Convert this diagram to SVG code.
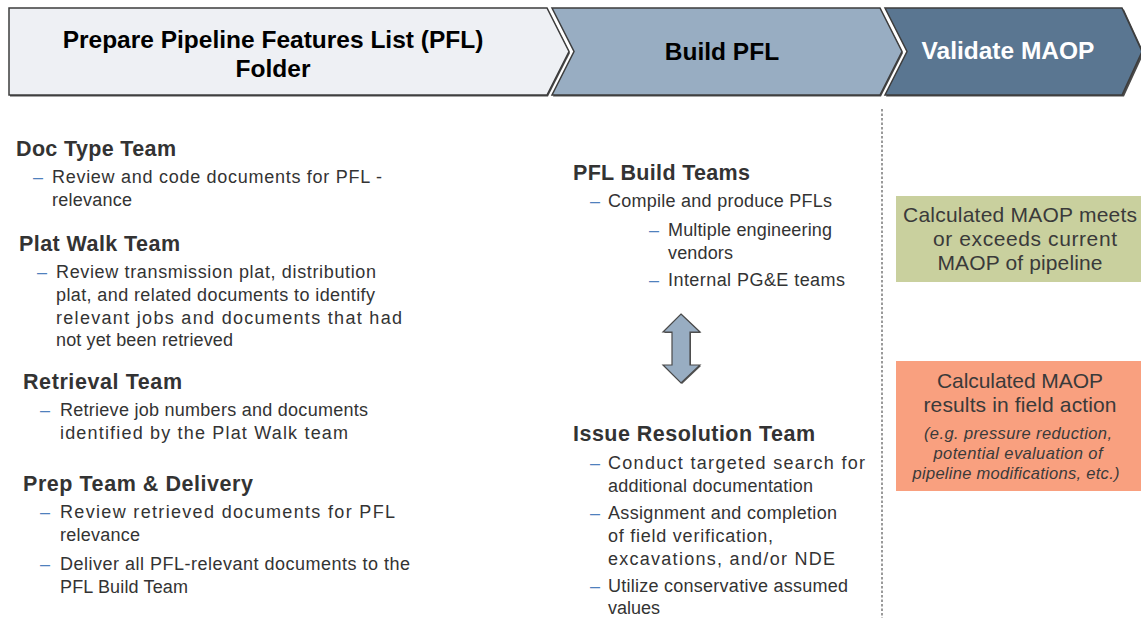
<svg xmlns="http://www.w3.org/2000/svg" width="1141" height="618" viewBox="0 0 1141 618">
  <style>
    .hdr { font-family: "Liberation Sans", Arial, sans-serif; font-weight: bold; font-size: 24.5px; text-anchor: middle; }
    .head { font-family: "Liberation Sans", Arial, sans-serif; font-weight: bold; font-size: 21.5px; fill: #333333; }
    .body { font-family: "Liberation Sans", Arial, sans-serif; font-size: 18px; fill: #333333; }
    .dash { font-family: "Liberation Sans", Arial, sans-serif; font-size: 18px; fill: #4F81BD; }
    .box { font-family: "Liberation Sans", Arial, sans-serif; font-size: 21px; fill: #3a3a3a; text-anchor: middle; }
    .note { font-family: "Liberation Sans", Arial, sans-serif; font-size: 16.5px; font-style: italic; fill: #3a3a3a; text-anchor: middle; }
    .chev { stroke: #3d3d3d; stroke-width: 1.5; stroke-linejoin: miter; }
    .shadow { fill: #4a4a4a; }
  </style>

  <rect width="1141" height="618" fill="#ffffff"/>

  <!-- phase chevrons -->
  <g id="phase-prepare">
    <polygon class="shadow" points="10,9.5 548,9.5 570,53 548,96.5 10,96.5"/>
    <polygon class="chev" fill="#EEF0F4" points="9,8 547,8 569,51.5 547,95 9,95"/>
    <text class="hdr" fill="#000000" x="273" y="48">Prepare Pipeline Features List (PFL)</text>
    <text class="hdr" fill="#000000" x="273" y="77">Folder</text>
  </g>
  <g id="phase-build">
    <polygon class="shadow" points="553,9.5 881,9.5 903,53 881,96.5 553,96.5 575,53"/>
    <polygon class="chev" fill="#98ADC2" points="552,8 880,8 902,51.5 880,95 552,95 574,51.5"/>
    <text class="hdr" fill="#000000" x="722" y="60">Build PFL</text>
  </g>
  <g id="phase-validate">
    <polygon class="shadow" points="886,9.5 1124,9.5 1144,53 1124,96.5 886,96.5 908,53"/>
    <polygon class="chev" fill="#5A7691" points="885,8 1122,8 1142,51.5 1122,95 885,95 907,51.5"/>
    <text class="hdr" fill="#ffffff" x="1008" y="59">Validate MAOP</text>
  </g>

  <!-- separator between build and validate columns -->
  <line x1="882" y1="109" x2="882" y2="618" stroke="#7a7a7a" stroke-width="1.5" stroke-dasharray="2.5,2"/>

  <!-- left column: prepare teams -->
  <g id="doc-type-team">
    <text class="head" x="16" y="155.5" textLength="160">Doc Type Team</text>
    <text class="dash" x="33" y="183">–</text>
    <text class="body" x="52" y="183" textLength="330">Review and code documents for PFL -</text>
    <text class="body" x="52" y="206" textLength="80">relevance</text>
  </g>
  <g id="plat-walk-team">
    <text class="head" x="19" y="250.5" textLength="161">Plat Walk Team</text>
    <text class="dash" x="37" y="278">–</text>
    <text class="body" x="56" y="278" textLength="320">Review transmission plat, distribution</text>
    <text class="body" x="56" y="301" textLength="319">plat, and related documents to identify</text>
    <text class="body" x="56" y="324" textLength="346">relevant jobs and documents that had</text>
    <text class="body" x="56" y="346" textLength="177">not yet been retrieved</text>
  </g>
  <g id="retrieval-team">
    <text class="head" x="23" y="388.5" textLength="159">Retrieval Team</text>
    <text class="dash" x="40" y="416">–</text>
    <text class="body" x="60" y="416" textLength="308">Retrieve job numbers and documents</text>
    <text class="body" x="60" y="439" textLength="288">identified by the Plat Walk team</text>
  </g>
  <g id="prep-team-delivery">
    <text class="head" x="23" y="490.5" textLength="230">Prep Team &amp; Delivery</text>
    <text class="dash" x="40" y="518">–</text>
    <text class="body" x="60" y="518" textLength="335">Review retrieved documents for PFL</text>
    <text class="body" x="60" y="541" textLength="80">relevance</text>
    <text class="dash" x="40" y="570">–</text>
    <text class="body" x="60" y="570" textLength="350">Deliver all PFL-relevant documents to the</text>
    <text class="body" x="60" y="593" textLength="128">PFL Build Team</text>
  </g>

  <!-- middle column: build teams -->
  <g id="pfl-build-teams">
    <text class="head" x="573" y="179.5" textLength="177">PFL Build Teams</text>
    <text class="dash" x="590" y="207">–</text>
    <text class="body" x="608" y="207" textLength="224">Compile and produce PFLs</text>
    <text class="dash" x="649" y="236">–</text>
    <text class="body" x="668" y="236" textLength="164">Multiple engineering</text>
    <text class="body" x="668" y="259" textLength="65">vendors</text>
    <text class="dash" x="649" y="286">–</text>
    <text class="body" x="668" y="286" textLength="177">Internal PG&amp;E teams</text>
  </g>
  <g id="issue-resolution-team">
    <text class="head" x="573" y="440.5" textLength="242">Issue Resolution Team</text>
    <text class="dash" x="590" y="469">–</text>
    <text class="body" x="608" y="469" textLength="257">Conduct targeted search for</text>
    <text class="body" x="608" y="492" textLength="205">additional documentation</text>
    <text class="dash" x="590" y="519">–</text>
    <text class="body" x="608" y="519" textLength="229">Assignment and completion</text>
    <text class="body" x="608" y="542" textLength="165">of field verification,</text>
    <text class="body" x="608" y="565" textLength="227">excavations, and/or NDE</text>
    <text class="dash" x="590" y="592">–</text>
    <text class="body" x="608" y="592" textLength="240">Utilize conservative assumed</text>
    <text class="body" x="608" y="614" textLength="52">values</text>
  </g>

  <!-- right column: outcomes -->
  <g id="outcome-meets">
    <rect x="896" y="196" width="245" height="86" fill="#C9D09E"/>
    <text class="box" x="1020" y="222" textLength="234">Calculated MAOP meets</text>
    <text class="box" x="1025" y="246" textLength="184">or exceeds current</text>
    <text class="box" x="1020" y="270" textLength="165">MAOP of pipeline</text>
  </g>
  <g id="outcome-field-action">
    <rect x="896" y="361" width="245" height="130" fill="#F9A07F"/>
    <text class="box" x="1020" y="388" textLength="166">Calculated MAOP</text>
    <text class="box" x="1020" y="412" textLength="193">results in field action</text>
    <text class="note" x="1018" y="439" textLength="188">(e.g. pressure reduction,</text>
    <text class="note" x="1018" y="459" textLength="169">potential evaluation of</text>
    <text class="note" x="1016" y="479" textLength="207">pipeline modifications, etc.)</text>
  </g>

  <!-- exchange between build teams and issue resolution -->
  <g id="connectors">
    <polygon points="682,315 701,333 691,333 691,366 701,366 682,384 664,366 673,366 673,333 664,333" fill="#555555"/>
    <polygon points="681,314 700,332 690,332 690,365 700,365 681,383 663,365 672,365 672,332 663,332" fill="#98ADC2" stroke="#4a4a4a" stroke-width="1.2" stroke-linejoin="miter"/>
  </g>
</svg>
